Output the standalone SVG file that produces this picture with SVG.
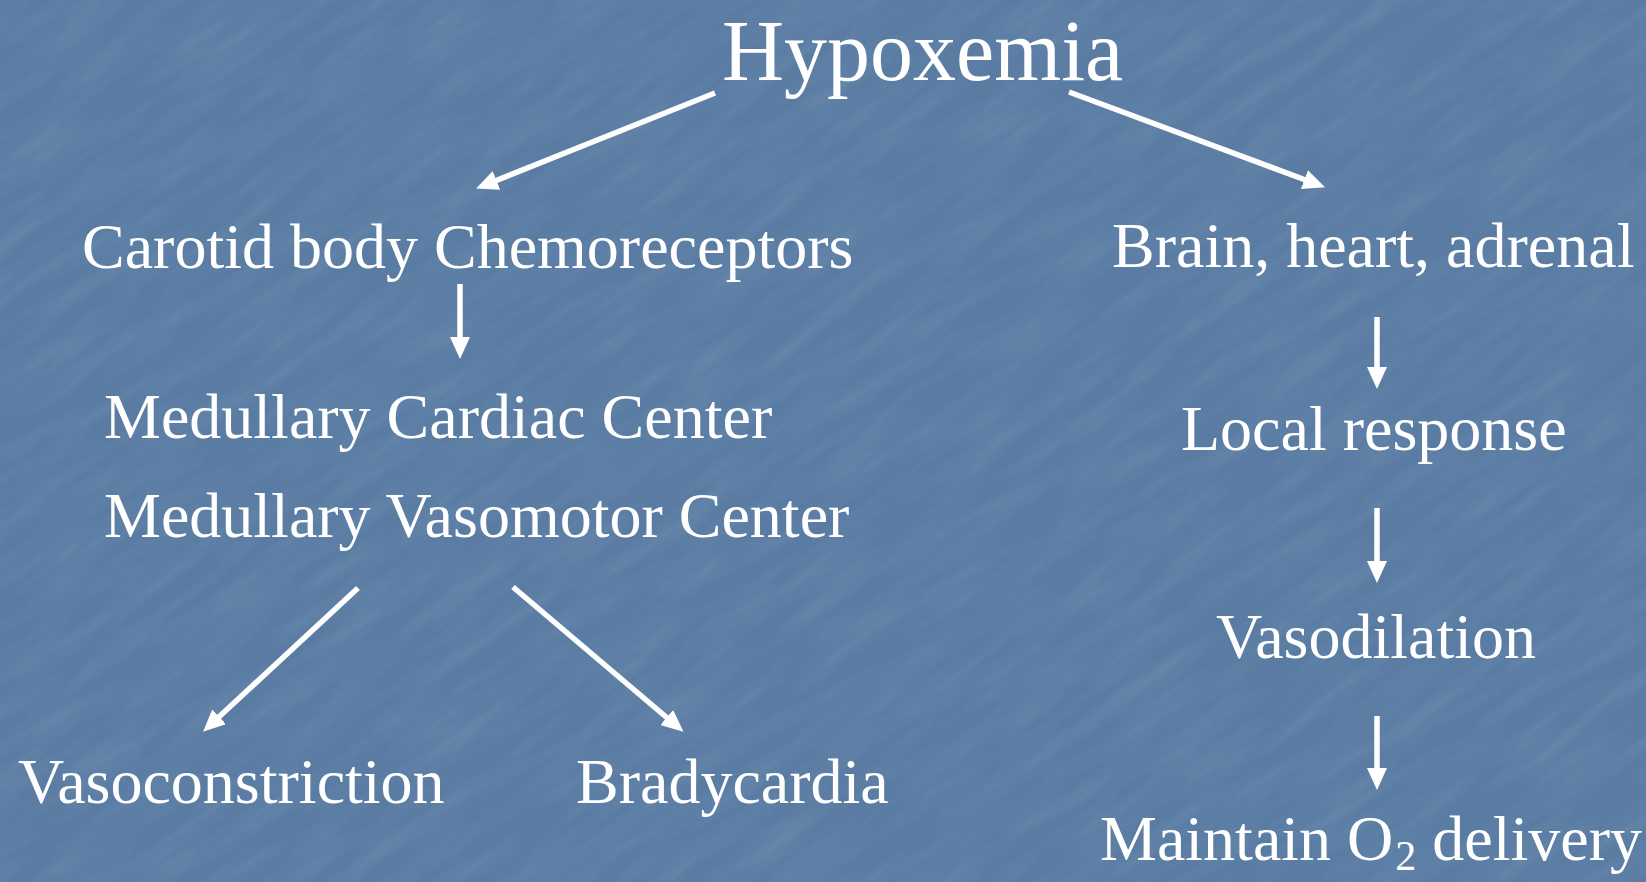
<svg xmlns="http://www.w3.org/2000/svg" width="1646" height="882" viewBox="0 0 1646 882">
<defs>
<style>
.t{font-family:"Liberation Serif","Times New Roman",serif;fill:#ffffff;font-size:64px}
.c{stroke:#ffffff;stroke-width:5.5;fill:none;marker-end:url(#ah)}
</style>
<marker id="ah" markerUnits="userSpaceOnUse" markerWidth="22" markerHeight="20" refX="7" refY="10" orient="auto">
<path d="M0,0 L22,10 L0,20 z" fill="#ffffff"/>
</marker>
<filter id="tex" x="0" y="0" width="100%" height="100%">
<feTurbulence type="fractalNoise" baseFrequency="0.01 0.06" numOctaves="4" seed="3" result="n"/>
<feColorMatrix type="matrix" values="0 0 0 0 1  0 0 0 0 1  0 0 0 0 1  0 0 0 0.35 -0.12"/>
</filter>
<clipPath id="cv"><rect x="0" y="0" width="1646" height="882"/></clipPath>
</defs>
<rect x="0" y="0" width="1646" height="882" fill="#5a7ca3"/>
<g clip-path="url(#cv)">
<rect x="-600" y="-900" width="2900" height="2700" filter="url(#tex)" opacity="0.35" transform="rotate(-35 823 441)"/>
</g>
<g id="connectors">
<line class="c" x1="715" y1="93" x2="490" y2="183"/>
<line class="c" x1="1069" y1="92" x2="1311" y2="182"/>
<line class="c" x1="460" y1="284" x2="460" y2="344"/>
<line class="c" x1="358" y1="588" x2="214" y2="721.5"/>
<line class="c" x1="513" y1="587" x2="672" y2="722"/>
<line class="c" x1="1377" y1="317" x2="1377" y2="374"/>
<line class="c" x1="1377" y1="508" x2="1377" y2="568"/>
<line class="c" x1="1377" y1="716" x2="1377" y2="775"/>
</g>
<g id="hypoxemia"><text class="t" x="722" y="80" style="font-size:86px">Hypoxemia</text></g>
<g id="carotid"><text class="t" x="82" y="268">Carotid body Chemoreceptors</text></g>
<g id="brain"><text class="t" x="1112" y="267">Brain, heart, adrenal</text></g>
<g id="cardiac"><text class="t" x="104" y="438">Medullary Cardiac Center</text></g>
<g id="vasomotor"><text class="t" x="104" y="537">Medullary Vasomotor Center</text></g>
<g id="local"><text class="t" x="1181" y="450">Local response</text></g>
<g id="vasodilation"><text class="t" x="1216" y="658">Vasodilation</text></g>
<g id="vasoconstriction"><text class="t" x="18" y="803">Vasoconstriction</text></g>
<g id="bradycardia"><text class="t" x="576" y="803">Bradycardia</text></g>
<g id="maintain"><text class="t" x="1100" y="860">Maintain O<tspan style="font-size:42px" dx="2" dy="10">2</tspan><tspan dy="-10"> delivery</tspan></text></g>
</svg>
